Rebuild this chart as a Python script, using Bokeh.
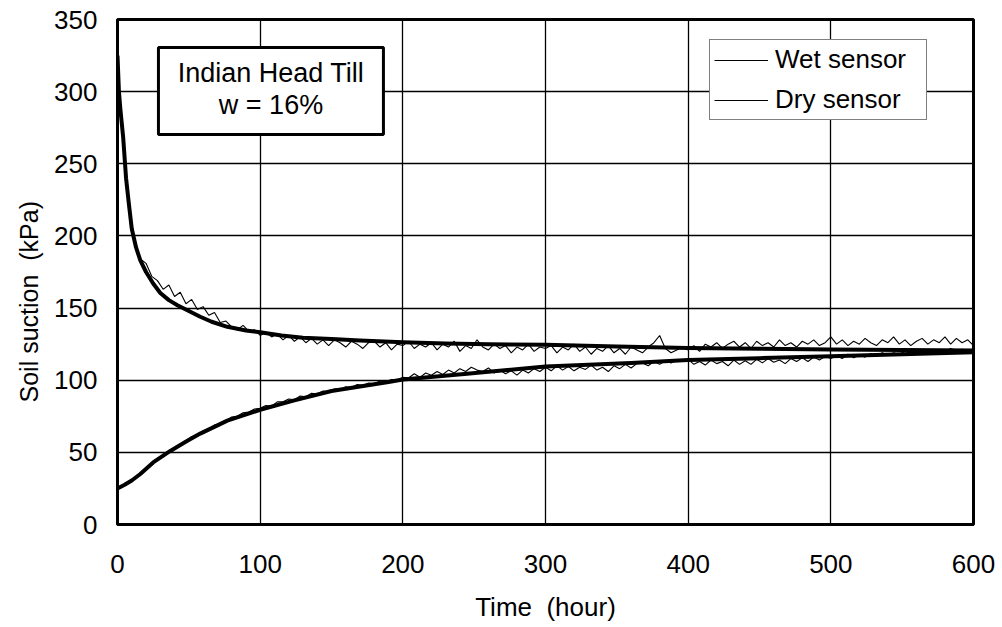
from bokeh.plotting import figure
from bokeh.models import Range1d, Label, BoxAnnotation, Legend, LegendItem, FixedTicker, Title
from bokeh.embed import file_html
from bokeh.resources import INLINE

# ---------------- data ----------------
x_ticks = [0, 100, 200, 300, 400, 500, 600]
y_ticks = [0, 50, 100, 150, 200, 250, 300, 350]

# smooth (thick) trend curves
dry_smooth_t = [0, 1, 2, 3, 4, 6, 8, 10, 13, 16, 20, 25, 30, 36, 42, 50, 58, 66, 77,
                90, 100, 115, 130, 150, 170, 200, 230, 260, 300, 350, 400, 450, 500,
                550, 605]
dry_smooth_v = [325, 300, 288, 278, 268, 240, 222, 205, 192, 183, 175, 167, 160.5,
                155.5, 152, 148, 144, 140.5, 137, 134.5, 133.3, 131, 129.5, 128.5,
                127.5, 126.3, 125.5, 125, 124.5, 123.3, 122.3, 121.8, 121.3, 121, 120.5]

wet_smooth_t = [0, 2, 5, 10, 16, 25, 37, 49, 58, 77, 100, 124, 150, 190, 200, 245,
                300, 360, 400, 450, 500, 550, 605]
wet_smooth_v = [25, 26, 27.5, 30.5, 35, 43, 51, 58, 63, 72, 79.5, 86, 92.5, 98.8,
                100.5, 104.5, 109.5, 112, 114, 115.3, 116.6, 118, 119.6]

# noisy (thin) sensor records
sensor_t = [0, 1, 2, 3, 4, 5, 6, 7, 8, 10, 12, 14, 16] + list(range(20, 605, 4))

dry_sensor = [330, 302, 290, 279, 266, 254, 243, 232, 223, 207, 196, 188, 184,
              181, 172, 169, 163, 166, 158, 161, 153, 156, 149,
              151, 145, 147, 140, 141, 137, 135, 138, 134, 135,
              131, 133, 130, 132, 128, 131, 127, 130, 126, 129,
              125, 128, 124, 128, 126, 123, 127, 125, 122, 126,
              127, 123, 126, 121, 125, 124, 127, 122, 125, 123,
              126, 121, 125, 123, 127, 120, 124, 122, 128, 123,
              121, 125, 122, 124, 119, 123, 121, 125, 120, 123,
              122, 124, 119, 123, 121, 125, 120, 123, 118, 122,
              120, 124, 119, 122, 118, 123, 121, 119, 123, 126,
              131, 122, 119, 121, 123, 121, 124, 120, 125, 123,
              126, 122, 125, 127, 123, 126, 122, 127, 124, 126,
              123, 128, 124, 126, 123, 127, 125, 128, 124, 126,
              130, 125, 128, 124, 127, 125, 129, 126, 124, 128,
              126, 130, 125, 128, 124, 127, 129, 125, 128, 126,
              130, 125, 129, 126, 128, 124, 127]

wet_sensor = [24, 26, 25.5, 27, 26.5, 28, 27.5, 29, 28.5, 31, 32, 34.5, 35,
              39, 41, 46, 47, 51, 52.5, 56, 57, 61, 61.5,
              65, 66, 69, 70, 72, 74.5, 75, 77.5, 78, 80,
              80.5, 82.5, 82, 85, 85, 87, 86.5, 89, 88.5, 91,
              90.5, 92.5, 92, 94, 93.5, 95.5, 95, 97, 96.5, 98,
              97.5, 99.5, 98.5, 100.5, 100, 102, 101.5, 104.5, 102, 105,
              103.5, 106, 104, 107, 105, 108, 106, 109, 107, 106,
              108.5, 105, 107, 104.5, 106.5, 103.5, 107, 105, 108, 106,
              109, 106.5, 110, 107, 109.5, 106.5, 109, 107.5, 110.5, 107,
              109, 106, 110, 108, 111, 108.5, 111.5, 112, 110, 113,
              111, 113.5, 112, 114, 113, 114.5, 111, 113, 110.5, 114,
              111.5, 113, 110, 114, 111, 113.5, 111, 114.5, 112, 115,
              112.5, 114, 111.5, 115, 113, 115.5, 113, 116, 114, 116.5,
              115, 117, 115, 118, 115.5, 117.5, 116, 118.5, 117, 119,
              117.5, 119, 118, 120, 118.5, 120, 119, 121, 119.5, 121.5,
              120, 122, 120.5, 121.5, 120, 122, 121]

assert len(sensor_t) == len(dry_sensor) == len(wet_sensor)

# ---------------- figure ----------------
FONT = "Liberation Sans"

p = figure(width=1000, height=626, output_backend="svg", toolbar_location=None,
           x_range=Range1d(0, 600), y_range=Range1d(0, 350),
           min_border_left=117, min_border_right=27, min_border_top=19,
           min_border_bottom=102)

p.background_fill_color = "white"
p.border_fill_color = "white"
p.outline_line_color = "black"
p.outline_line_width = 3

for ax in (p.xaxis[0], p.yaxis[0]):
    ax.axis_line_color = "black"
    ax.axis_line_width = 3
    ax.major_tick_out = 0
    ax.major_tick_in = 0
    ax.minor_tick_out = 0
    ax.minor_tick_in = 0
    ax.major_label_text_font = FONT
    ax.major_label_text_font_size = "26px"
    ax.major_label_text_color = "black"

p.xaxis.ticker = FixedTicker(ticks=x_ticks)
p.yaxis.ticker = FixedTicker(ticks=y_ticks)
p.xaxis.major_label_standoff = 30
p.yaxis.major_label_standoff = 20

p.xaxis.axis_label = "Time \u00a0(hour)"
p.xaxis.axis_label_text_font = FONT
p.xaxis.axis_label_text_font_size = "26px"
p.xaxis.axis_label_text_font_style = "normal"
p.xaxis.axis_label_text_color = "black"
p.xaxis.axis_label_standoff = 16

p.grid.grid_line_color = "black"
p.grid.grid_line_width = 1.3
p.xgrid.ticker = FixedTicker(ticks=x_ticks)
p.ygrid.ticker = FixedTicker(ticks=y_ticks)

# thin sensor records
r_wet = p.line(sensor_t, wet_sensor, line_color="black", line_width=1.1)
r_dry = p.line(sensor_t, dry_sensor, line_color="black", line_width=1.1)

# thick trend curves
p.line(dry_smooth_t, dry_smooth_v, line_color="black", line_width=4, line_join="round")
p.line(wet_smooth_t, wet_smooth_v, line_color="black", line_width=4, line_join="round")

# y axis label as a left-side title, placed lower as in the original
ytitle = Title(text="Soil suction \u00a0(kPa)", align="left", offset=122,
               standoff=18, text_font=FONT, text_font_size="25px",
               text_font_style="normal", text_color="black")
p.add_layout(ytitle, "left")

# annotation box
p.add_layout(BoxAnnotation(left=28.7, right=186.4, bottom=270.3, top=330.6,
                           fill_color="white", fill_alpha=1.0,
                           line_color="black", line_width=3, line_alpha=1.0))
p.add_layout(Label(x=107.6, y=312.9, text="Indian Head Till",
                   text_align="center", text_baseline="middle",
                   text_font=FONT, text_font_size="27px", text_color="black"))
p.add_layout(Label(x=107.6, y=290.4, text="w = 16%",
                   text_align="center", text_baseline="middle",
                   text_font=FONT, text_font_size="27px", text_color="black"))

legend = Legend(items=[LegendItem(label="Wet sensor", renderers=[r_wet]),
                       LegendItem(label="Dry sensor", renderers=[r_dry])],
                location=(592, 404))
legend.label_text_font = FONT
legend.label_text_font_size = "26px"
legend.label_text_color = "black"
legend.glyph_width = 54
legend.glyph_height = 20
legend.label_height = 20
legend.label_standoff = 7
legend.label_width = 147
legend.padding = 4
legend.spacing = 9
legend.margin = 0
legend.border_line_color = "black"
legend.border_line_width = 1.5
legend.background_fill_color = "white"
legend.background_fill_alpha = 1.0
p.add_layout(legend)

open("out.html", "w").write(file_html(p, INLINE))
